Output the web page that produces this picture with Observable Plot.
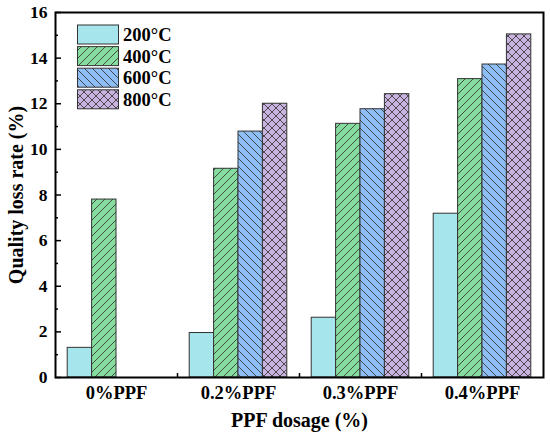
<!DOCTYPE html>
<html>
<head>
<meta charset="utf-8">
<script src="https://cdn.jsdelivr.net/npm/d3@7"></script>
<script src="https://cdn.jsdelivr.net/npm/@observablehq/plot@0.6"></script>
<style>
  html, body { margin: 0; padding: 0; background: #fff; }
</style>
</head>
<body>
<div id="chart"></div>
<script>
// ---- data ----
const categories = ["0%PPF", "0.2%PPF", "0.3%PPF", "0.4%PPF"];
const temps = ["200°C", "400°C", "600°C", "800°C"];
const v200 = [1.3, 1.95, 2.62, 7.18];
const v400 = [7.8, 9.15, 11.12, 13.08];
const v600 = [null, 10.78, 11.76, 13.72];
const v800 = [null, 12.0, 12.42, 15.04];
const yMajorTicks = [0, 2, 4, 6, 8, 10, 12, 14, 16];
const yMinorTicks = [1, 3, 5, 7, 9, 11, 13, 15];
const xAxisTitle = "PPF dosage (%)";
const yAxisTitle = "Quality loss rate (%)";

const fills = ["#a6e5ec", "#85dc9e", "#8fbef5", "#c9b4e0"];

// ---- table ----
const series = [v200, v400, v600, v800];
const barW = 0.2;
const rows = [];
series.forEach((vals, ti) => {
  vals.forEach((v, gi) => {
    if (v == null) return;
    const x1 = gi + (ti - 2) * barW;
    rows.push({category: categories[gi], temp: temps[ti], value: v, x1, x2: x1 + barW});
  });
});

const font = "'Liberation Serif', 'Times New Roman', serif";

const chart = Plot.plot({
  width: 550,
  height: 438,
  marginLeft: 55,
  marginRight: 7,
  marginTop: 12,
  marginBottom: 61,
  style: {fontFamily: font, fontWeight: "bold", fontSize: "16px", color: "#000", background: "#fff", overflow: "visible"},
  x: {domain: [-0.5, categories.length - 0.5], axis: null},
  y: {domain: [0, 16], axis: null},
  color: {type: "ordinal", domain: temps, range: temps.map((_, i) => `url(#pat${i})`)},
  marks: [
    Plot.rectY(rows, {x1: "x1", x2: "x2", y: "value", fill: "temp", stroke: "#333", strokeWidth: 1}),
    // y tick labels
    Plot.axisY({ticks: yMajorTicks, tickSize: 0, tickPadding: 8, fontSize: 17.5, label: null}),
    // inward ticks
    Plot.axisY({ticks: yMajorTicks, tickSize: -6, tickFormat: () => "", label: null, strokeWidth: 1.5}),
    Plot.axisY({ticks: yMinorTicks, tickSize: -3, tickFormat: () => "", label: null, strokeWidth: 1.5}),
    // x tick labels
    Plot.axisX({ticks: categories.map((_, i) => i), tickFormat: i => categories[i], tickSize: 0, tickPadding: 8, fontSize: 18.5, label: null}),
    Plot.axisX({ticks: categories.slice(1).map((_, i) => i + 0.5), tickSize: -4, tickFormat: () => "", label: null, strokeWidth: 1.5}),
    Plot.frame({stroke: "#000", strokeWidth: 2}),
    Plot.text([xAxisTitle], {text: d => d, frameAnchor: "bottom", lineAnchor: "middle", textAnchor: "middle", dy: 43, fontSize: 20, fontWeight: "bold"}),
    Plot.text([yAxisTitle], {text: d => d, frameAnchor: "left", lineAnchor: "middle", textAnchor: "middle", rotate: -90, dx: -39, fontSize: 20, fontWeight: "bold"})
  ]
});

document.getElementById("chart").appendChild(chart);

// ---- patterns ----
const svg = d3.select(chart.tagName.toLowerCase() === "svg" ? chart : chart.querySelector("svg"));
const defs = svg.insert("defs", ":first-child");
const hatch = "#2b2b2b";
const S = 8;
function makePattern(id, color, paths) {
  const p = defs.append("pattern").attr("id", id).attr("patternUnits", "userSpaceOnUse")
    .attr("width", S).attr("height", S);
  p.append("rect").attr("width", S).attr("height", S).attr("fill", color);
  paths.forEach(d => p.append("path").attr("d", d).attr("stroke", hatch).attr("stroke-width", 0.8).attr("fill", "none"));
}
const fwd = `M-2,2 L2,-2 M0,${S} L${S},0 M${S - 2},${S + 2} L${S + 2},${S - 2}`;
const back = `M-2,${S - 2} L2,${S + 2} M0,0 L${S},${S} M${S - 2},-2 L${S + 2},2`;
makePattern("pat0", fills[0], []);
makePattern("pat1", fills[1], [fwd]);
makePattern("pat2", fills[2], [back]);
makePattern("pat3", fills[3], [fwd, back]);

// ---- legend ----
const lg = svg.append("g").attr("class", "legend").attr("text-anchor", "start");
temps.forEach((t, i) => {
  const y = 25 + i * 21.6;
  lg.append("rect").attr("x", 77.5).attr("y", y).attr("width", 41).attr("height", 19)
    .attr("fill", `url(#pat${i})`).attr("stroke", "#333").attr("stroke-width", 1);
  lg.append("text").attr("x", 123).attr("y", y + 9.5).attr("dy", "0.35em")
    .attr("text-anchor", "start")
    .attr("font-size", 18.5).attr("font-weight", "bold").attr("font-family", font)
    .attr("fill", "#000").text(t);
});
</script>
</body>
</html>
